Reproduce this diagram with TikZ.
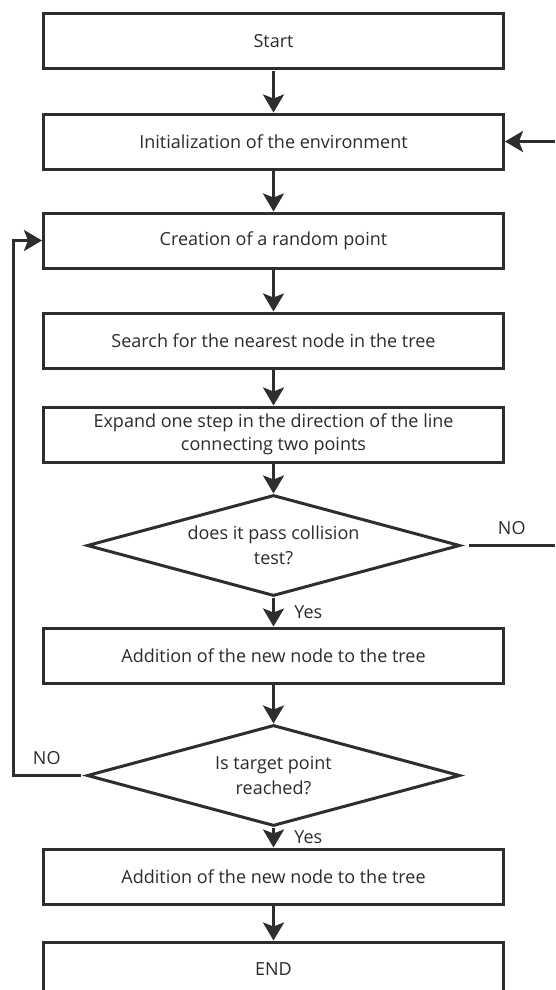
\documentclass[tikz,border=0pt]{standalone}
\usepackage{fontspec}
\setmainfont{Open Sans}
\usepackage{xcolor}
\usetikzlibrary{arrows.meta,positioning,shapes.geometric}
\definecolor{ink}{HTML}{2E2E2E}
\definecolor{txt}{HTML}{2B2B2B}

\begin{document}
\begin{tikzpicture}[x=1pt,y=-1pt,node distance=41pt,every node/.style={font=\fontsize{18}{25}\selectfont,text=txt},box/.style={draw=ink,line width=3pt,fill=white,align=center,minimum width=460pt,minimum height=55pt,inner sep=0pt},decide/.style={diamond,draw=ink,line width=3pt,fill=white,align=center,shape aspect=3.7,minimum width=373pt,minimum height=101pt,inner sep=0pt},arr/.style={-{Stealth[length=18pt,width=21pt,inset=4pt]},line width=3pt,draw=ink},lbl/.style={font=\fontsize{18}{22}\selectfont}]
\useasboundingbox (0,0) rectangle (555,990);
\node[box] (start) at (273.5,41.5) {Start};
\node[box,below=42pt of start] (init) {Initialization of the environment};
\node[box,below=41pt of init] (rand) {Creation of a random point};
\node[box,below=42pt of rand] (search) {Search for the nearest node in the tree};
\node[box,below=36pt of search,font=\fontsize{18}{23}\selectfont] (expand) {Expand one step in the direction of the line\\connecting two points};
\node[decide,below=30pt of expand] (coll) {does it pass collision\\test?};
\node[box,below=29pt of coll] (addA) {Addition of the new node to the tree};
\node[decide,below=39pt of addA] (target) {Is target point\\reached?};
\node[box,below=20pt of target] (addB) {Addition of the new node to the tree};
\node[box,below=35pt of addB] (finish) {END};
\coordinate (edgeR) at (555,0);
\coordinate (edgeL) at (13,0);
\draw[arr] (start) -- (init);\draw[arr] (init) -- (rand);\draw[arr] (rand) -- (search);\draw[arr] (search) -- (expand);\draw[arr] (expand) -- (coll);
\draw[arr] (coll) -- node[lbl,right=16pt] (yesA) {Yes} (addA);
\draw[arr] (addA) -- (target);
\draw[arr] (target) -- node[lbl,right=16pt] (yesB) {Yes} (addB);
\draw[arr] (addB) -- (finish);
\draw[arr] (init.east -| edgeR) -- (init.east);
\draw[line width=3pt,draw=ink] ([xshift=7pt]coll.east) -- node[lbl,above=6pt] (noA) {NO} (coll.east -| edgeR);
\draw[arr] ([xshift=-5pt]target.west) -- node[lbl,above=6pt] (noB) {NO} (target.west -| edgeL) |- (rand.west);
\end{tikzpicture}
\end{document}
